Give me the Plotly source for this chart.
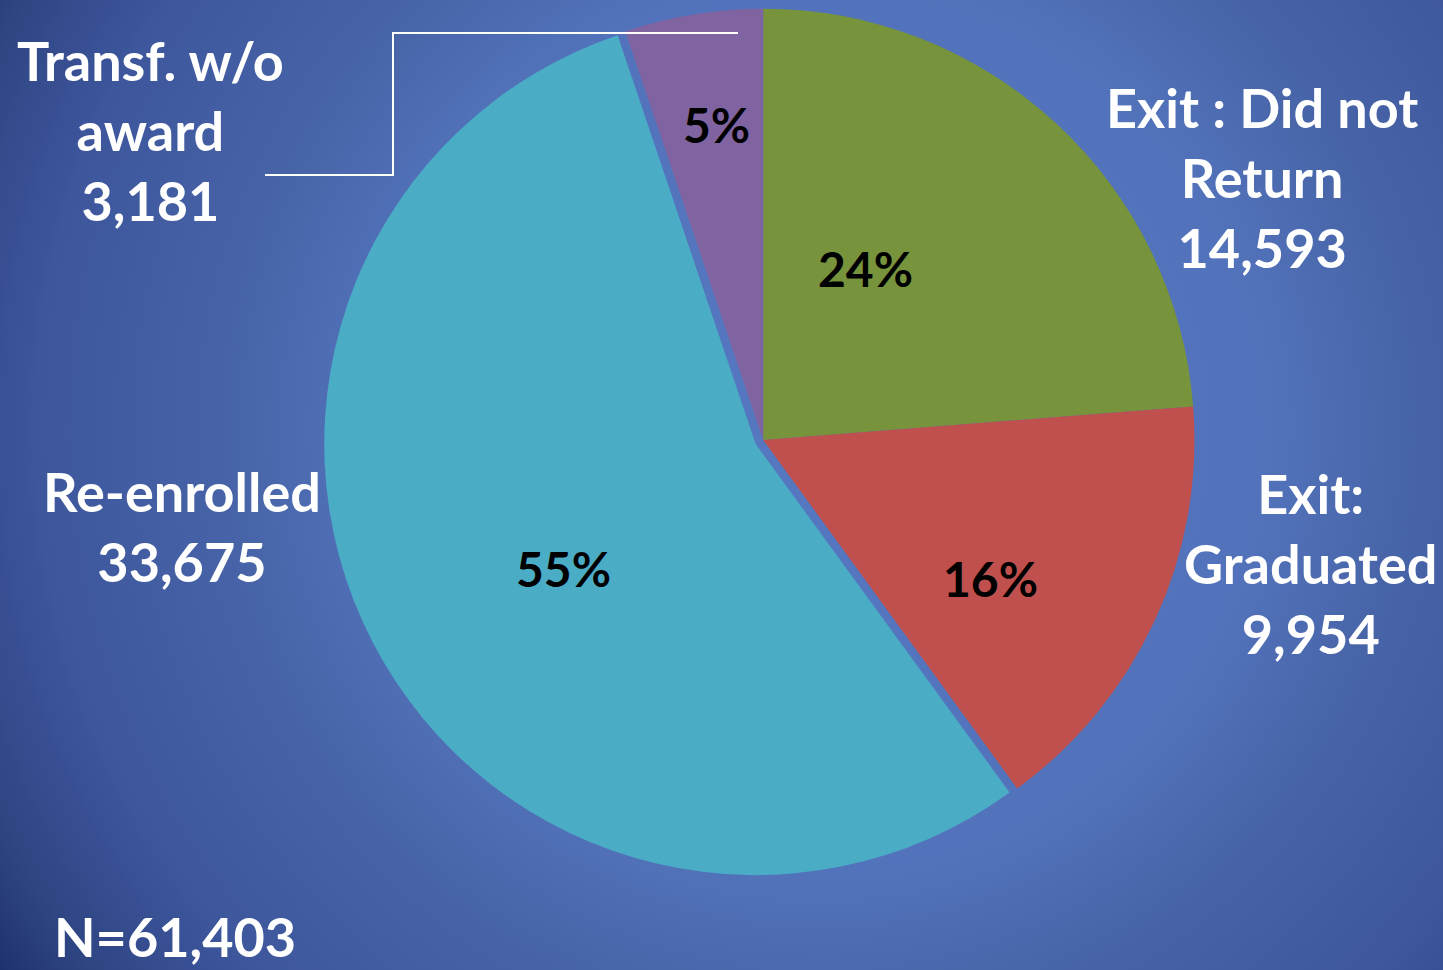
import base64
import plotly.graph_objects as go

# ---- data ----
labels = ["Exit : Did not Return", "Exit: Graduated", "Re-enrolled", "Transf. w/o award"]
label_lines = ["Exit : Did not<br>Return", "Exit:<br>Graduated", "Re-enrolled", "Transf. w/o<br>award"]
values = [14593, 9954, 33675, 3181]
colors = ["#77933c", "#c0504d", "#4bacc6", "#8064a2"]
pulls = [0, 0, 0.02, 0]
total_label = "N=61,403"

W, H = 1443, 970
FONT = "Lato"

# background gradient as an SVG image
svg = f'''<svg xmlns="http://www.w3.org/2000/svg" width="{W}" height="{H}">
<defs><radialGradient id="g" gradientUnits="userSpaceOnUse" cx="820" cy="430" r="980">
<stop offset="0" stop-color="#5678c0"/>
<stop offset="0.45" stop-color="#5273bb"/>
<stop offset="0.6" stop-color="#4864a8"/>
<stop offset="0.8" stop-color="#3d569c"/>
<stop offset="0.93" stop-color="#2e4482"/>
<stop offset="1" stop-color="#1f3270"/>
</radialGradient></defs>
<rect width="{W}" height="{H}" fill="url(#g)"/>
</svg>'''
bg_src = "data:image/svg+xml;base64," + base64.b64encode(svg.encode()).decode()

fig = go.Figure()
fig.add_trace(go.Pie(
    labels=labels,
    values=values,
    sort=False,
    direction="clockwise",
    rotation=0,
    pull=pulls,
    marker=dict(colors=colors, line=dict(width=0)),
    textinfo="none",
    showlegend=False,
    hoverinfo="label+value+percent",
    domain=dict(x=[0.2235, 0.8343], y=[0.093, 1.0]),
))

def px(x, y):
    return x / W, 1 - y / H

total = sum(values)

# percentage labels inside slices
pct_pos = [(866, 268), (990, 578), (563, 568), (716, 125)]
for val, (x, y) in zip(values, pct_pos):
    ax, ay = px(x, y)
    fig.add_annotation(
        x=ax, y=ay, xref="paper", yref="paper", xanchor="center", yanchor="middle",
        text=f"{round(100 * val / total)}%", showarrow=False,
        font=dict(family=FONT, size=48, color="black", weight="bold"),
    )

# category labels outside
ann_pos = [(1262, 177), (1310, 563), (182, 526), (150, 131)]
for lab, val, (x, y) in zip(label_lines, values, ann_pos):
    ax, ay = px(x, y)
    fig.add_annotation(
        x=ax, y=ay, xref="paper", yref="paper", xanchor="center", yanchor="middle",
        text=f"{lab}<br>{val:,}", showarrow=False, align="center",
        font=dict(family=FONT, size=54, color="white", weight="bold"),
    )

nx, ny = px(175, 936)
fig.add_annotation(
    x=nx, y=ny, xref="paper", yref="paper", xanchor="center", yanchor="middle",
    text=total_label, showarrow=False,
    font=dict(family=FONT, size=54, color="white", weight="bold"),
)

# leader line for the small slice
p = [px(265, 175), px(393, 175), px(393, 33), px(738, 33)]
path = "M " + " L ".join(f"{a},{b}" for a, b in p)
fig.add_shape(type="path", path=path, xref="paper", yref="paper",
              line=dict(color="white", width=2))

fig.add_layout_image(dict(source=bg_src, xref="paper", yref="paper", x=0, y=1,
                          sizex=1, sizey=1, sizing="stretch", layer="below",
                          xanchor="left", yanchor="top"))

fig.update_layout(
    width=W, height=H,
    margin=dict(l=0, r=0, t=0, b=0),
    paper_bgcolor="#3d569c",
    plot_bgcolor="rgba(0,0,0,0)",
)

fig.write_html("out.html", config={"displayModeBar": False},
               post_script="document.body.style.margin='0';document.body.style.overflow='hidden';")
